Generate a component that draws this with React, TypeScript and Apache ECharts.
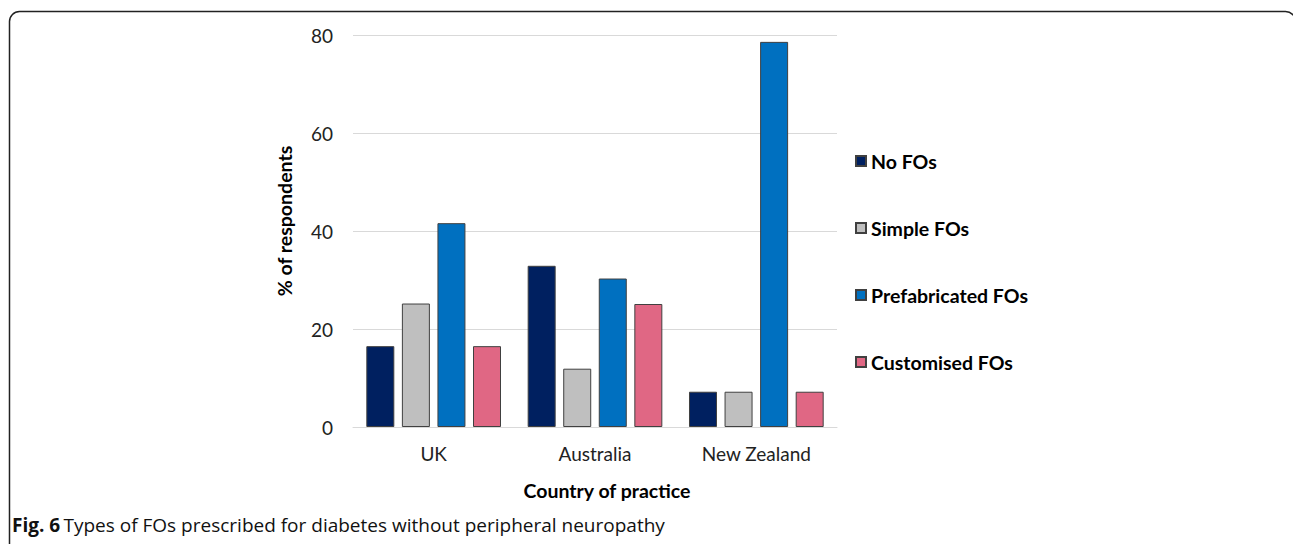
import React, { useEffect, useRef } from "react";
import * as echarts from "echarts";

const categories = ["UK", "Australia", "New Zealand"];
const seriesNames = ["No FOs", "Simple FOs", "Prefabricated FOs", "Customised FOs"];
const noFOs = [16.5, 32.9, 7.2];
const simpleFOs = [25.2, 11.9, 7.2];
const prefabricatedFOs = [41.6, 30.3, 78.6];
const customisedFOs = [16.5, 25.1, 7.2];
const yTicks = [0, 20, 40, 60, 80];
const colors = ["#002060", "#BFBFBF", "#0070C0", "#E06784"];

const FONT = "Lato, 'Open Sans', sans-serif";

export default function App() {
  const ref = useRef<HTMLDivElement>(null);
  useEffect(() => {
    if (!ref.current) return;
    const chart = echarts.init(ref.current, null, { renderer: "svg" });
    const data = [noFOs, simpleFOs, prefabricatedFOs, customisedFOs];
    chart.setOption({
      animation: false,
      textStyle: { fontFamily: FONT },
      grid: { left: 353, right: 456, top: 35, bottom: 117 },
      legend: {
        orient: "vertical",
        left: 855,
        top: 151,
        padding: 0,
        itemWidth: 10,
        itemHeight: 10,
        itemGap: 47,
        icon: "rect",
        textStyle: { fontSize: 19.5, fontWeight: "bold", color: "#000", lineHeight: 20, fontFamily: FONT },
        data: seriesNames,
      },
      xAxis: {
        type: "category",
        data: categories,
        axisTick: { show: false },
        axisLine: { lineStyle: { color: "#D9D9D9", width: 1 } },
        axisLabel: { fontSize: 19, color: "#222", margin: 17, fontFamily: FONT },
      },
      yAxis: {
        type: "value",
        min: yTicks[0],
        max: yTicks[yTicks.length - 1],
        interval: 20,
        axisLine: { show: false },
        axisTick: { show: false },
        axisLabel: { fontSize: 19, color: "#222", margin: 20, fontFamily: FONT },
        splitLine: { lineStyle: { color: "#D9D9D9", width: 1 } },
      },
      series: seriesNames.map((name, i) => ({
        name,
        type: "bar",
        data: data[i],
        barWidth: 28,
        barGap: "27%",
        itemStyle: { color: colors[i], borderColor: "#404040", borderWidth: 1 },
      })),
      graphic: [
        {
          type: "rect",
          shape: { x: 9.5, y: 11.5, width: 1286, height: 545, r: 10 },
          style: { fill: "none", stroke: "#222", lineWidth: 1.5 },
          silent: true,
        },
        {
          type: "text",
          x: 284,
          y: 221,
          rotation: Math.PI / 2,
          style: {
            text: "% of respondents",
            font: `bold 19.5px ${FONT}`,
            fill: "#000",
            align: "center",
            verticalAlign: "middle",
          },
        },
        {
          type: "text",
          x: 607,
          y: 490,
          style: {
            text: "Country of practice",
            font: `bold 19.5px ${FONT}`,
            fill: "#000",
            align: "center",
            verticalAlign: "middle",
          },
        },
        {
          type: "text",
          x: 12,
          y: 525,
          style: {
            rich: {
              b: { font: `bold 19px 'Open Sans', sans-serif`, fill: "#111" },
              n: { font: `19px 'Open Sans', sans-serif`, fill: "#111" },
            },
            text: "{b|Fig. 6} {n|Types of FOs prescribed for diabetes without peripheral neuropathy}",
            verticalAlign: "middle",
          },
        },
      ],
    });
    return () => chart.dispose();
  }, []);
  return (
    <div
      ref={ref}
      style={{ position: "fixed", left: 0, top: 0, width: 1293, height: 544, background: "#fff" }}
    />
  );
}
